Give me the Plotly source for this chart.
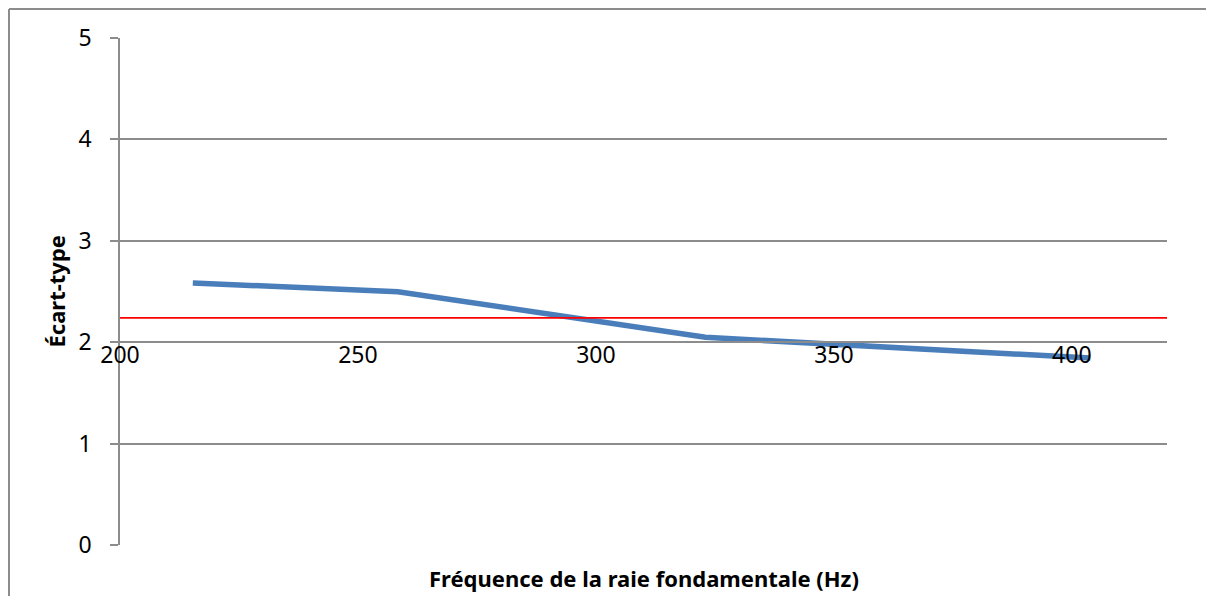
import plotly.graph_objects as go

# Data
freq_hz = [215.3, 258.4, 323.0, 403.9]
ecart_type = [2.584, 2.498, 2.048, 1.844]
reference_level = 2.24

x_tick_vals = [200, 250, 300, 350, 400]
x_tick_text = ["200", "250", "300", "350", "400"]
y_tick_vals = [0, 1, 2, 3, 4, 5]

x_title = "Fréquence de la raie fondamentale (Hz)"
y_title = "Écart-type"

FONT = "Noto Sans"
GRID = "#8c8c8c"

W, H = 1206, 588
ML, MR, MT, MB = 112, 47, 30, 51
PW, PH = W - ML - MR, H - MT - MB

fig = go.Figure()
fig.add_trace(go.Scatter(
    x=freq_hz, y=ecart_type, mode="lines",
    line=dict(color="#4a7ebb", width=5.5),
    showlegend=False, hoverinfo="x+y",
))

fig.add_hline(y=reference_level, line=dict(color="#ff0000", width=1.8), layer="above")

# Excel-like outer chart border (only left and top edges visible)
bx = (-ML + 1) / PW
by = 1 + (MT - 1) / PH
fig.add_shape(type="line", xref="paper", yref="paper",
              x0=bx, x1=bx, y0=-MB / PH - 0.01, y1=by,
              line=dict(color="#8c8c8c", width=2), layer="below")
fig.add_shape(type="line", xref="paper", yref="paper",
              x0=bx, x1=1 + MR / PW + 0.01, y0=by, y1=by,
              line=dict(color="#8c8c8c", width=2), layer="below")

fig.add_annotation(text="<b>" + x_title + "</b>", xref="paper", yref="paper",
                   x=0.5, y=-33 / PH, yanchor="middle", showarrow=False,
                   font=dict(family=FONT, size=22, color="black"))
fig.add_annotation(text="<b>" + y_title + "</b>", xref="paper", yref="paper",
                   x=-65 / PW, y=0.5, xanchor="center", yanchor="middle",
                   textangle=-90, showarrow=False,
                   font=dict(family=FONT, size=22, color="black"))

fig.update_layout(
    width=W, height=H,
    margin=dict(l=ML, r=MR, t=MT, b=MB),
    paper_bgcolor="white", plot_bgcolor="white",
    font=dict(family=FONT, color="black"),
    xaxis=dict(
        range=[200, 420],
        tickvals=x_tick_vals, ticktext=x_tick_text,
        showgrid=False, zeroline=False,
        showline=True, linecolor=GRID, linewidth=1.5,
        anchor="free", position=0.4,
        ticks="", ticklabelstandoff=-8,
        tickfont=dict(family=FONT, size=23, color="black"),
    ),
    yaxis=dict(
        range=[0, 5],
        tickvals=y_tick_vals,
        showgrid=True, gridcolor=GRID, gridwidth=1.5,
        zeroline=False,
        showline=True, linecolor=GRID, linewidth=1.5,
        ticks="outside", ticklen=8, tickcolor=GRID, tickwidth=1.5,
        ticklabelstandoff=14,
        tickfont=dict(family=FONT, size=23, color="black"),
    ),
)

fig.write_html("out.html")
